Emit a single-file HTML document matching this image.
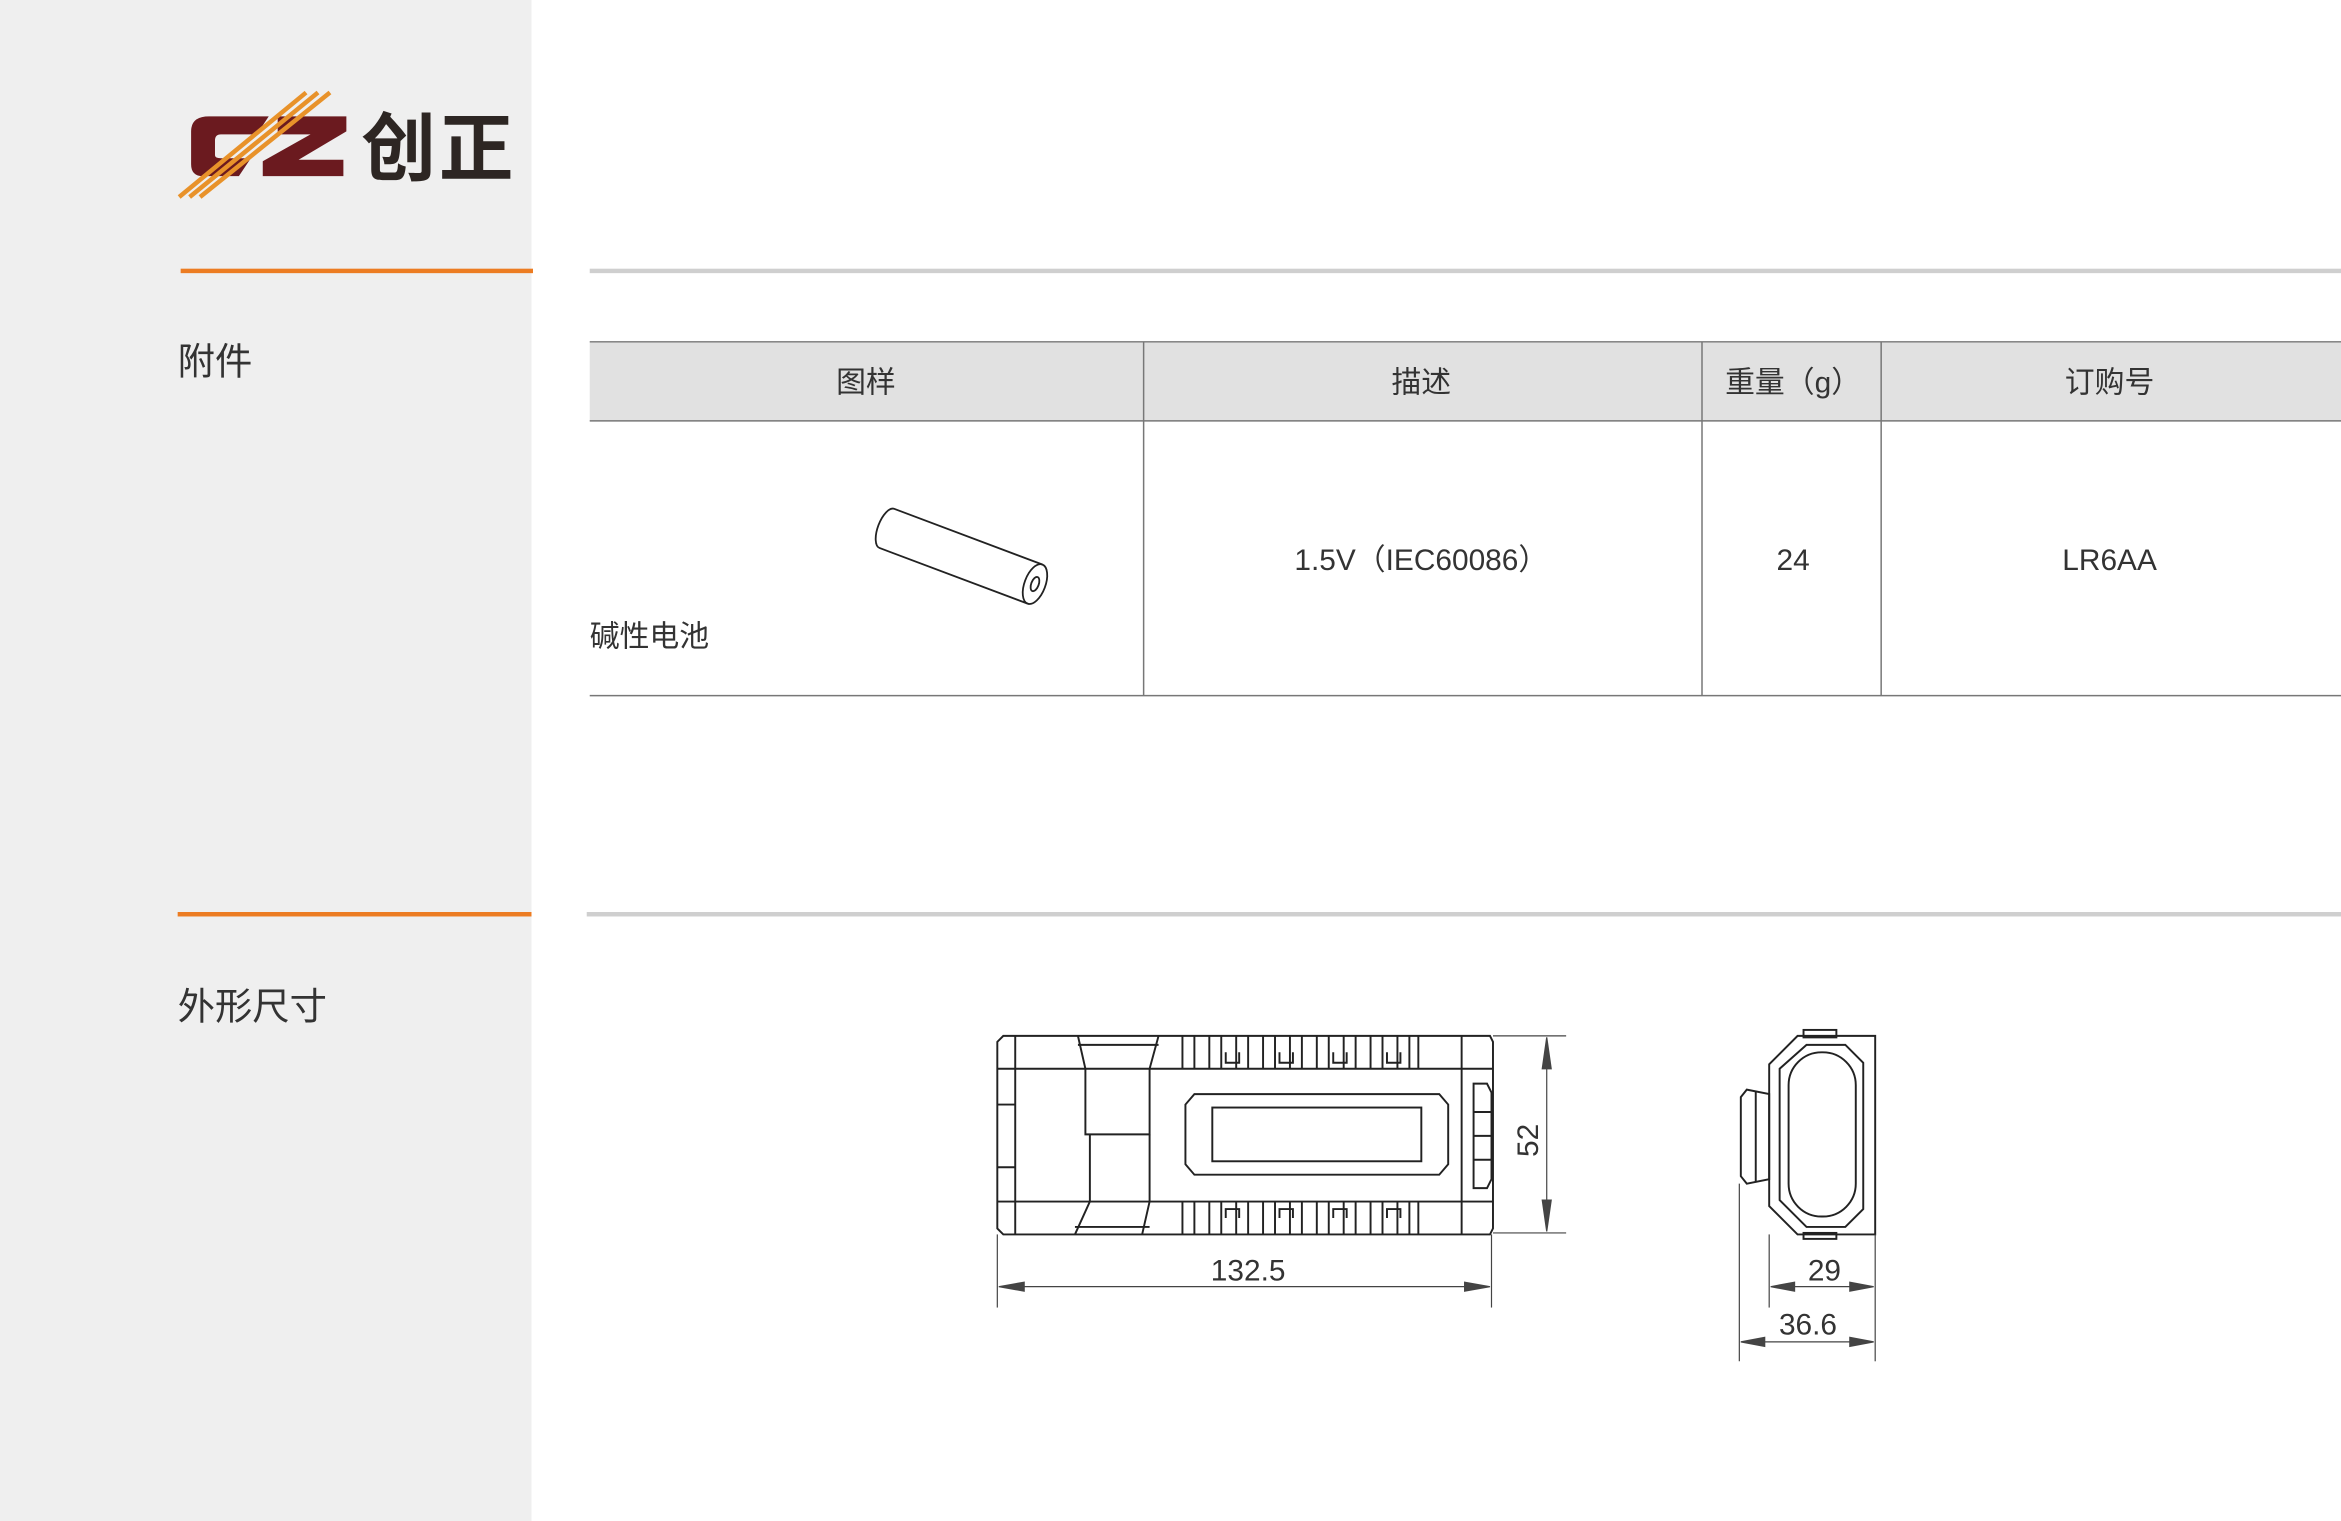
<!DOCTYPE html>
<html><head><meta charset="utf-8"><style>
html,body{margin:0;padding:0;background:#fff;}
svg{display:block;}
text{font-family:"Liberation Sans","Noto Sans CJK SC",sans-serif;}
</style></head><body>
<svg width="2341" height="1521" viewBox="0 0 1568 1019" preserveAspectRatio="none" xmlns="http://www.w3.org/2000/svg">
<rect x="0" y="0" width="1568" height="1019" fill="#fff"/>
<rect x="0" y="0" width="356" height="1019" fill="#efefef"/>
<!-- logo -->
<g>
<path d="M140 78 H180 L172 90 H148 Q144 90 144 94 V104 Q144 106 148 106 H168 L160 118 H136 Q128 118 128 110 V88 Q128 78 140 78 Z" fill="#6b1a1f"/>
<path d="M186 78 H232 L232 88 L200 107 H230 V118 H176 V108 L208 90 H186 Z" fill="#6b1a1f"/>
<g stroke="#e8922a" stroke-width="3">
<line x1="120" y1="132" x2="205" y2="62"/>
<line x1="127" y1="132" x2="213" y2="62"/>
<line x1="134" y1="132" x2="221" y2="62"/>
</g>
<text x="242" y="117" font-size="50" font-weight="bold" fill="#2d2623" letter-spacing="2">创正</text>
</g>
<!-- section lines -->
<rect x="121" y="180" width="236" height="3" fill="#ec7c22"/>
<rect x="395" y="180" width="1173" height="3" fill="#cfcfcf"/>
<rect x="119" y="611" width="237" height="3" fill="#ec7c22"/>
<rect x="393" y="611" width="1175" height="3" fill="#cfcfcf"/>
<text x="119" y="251" font-size="25" fill="#333">附件</text>
<text x="119" y="683" font-size="25" fill="#333">外形尺寸</text>
<!-- table -->
<rect x="395" y="229" width="1173" height="53" fill="#e1e1e1"/>
<g stroke="#777" stroke-width="1">
<line x1="395" y1="229" x2="1568" y2="229"/>
<line x1="395" y1="282" x2="1568" y2="282"/>
<line x1="395" y1="466" x2="1568" y2="466"/>
<line x1="766" y1="229" x2="766" y2="466"/>
<line x1="1140" y1="229" x2="1140" y2="466"/>
<line x1="1260" y1="229" x2="1260" y2="466"/>
</g>
<g font-size="20" fill="#333" text-anchor="middle">
<text x="580" y="263">图样</text>
<text x="952" y="263">描述</text>
<text x="1201" y="263">重量（g）</text>
<text x="1413" y="263">订购号</text>
<text x="952" y="382">1.5V（IEC60086）</text>
<text x="1201" y="382">24</text>
<text x="1413" y="382">LR6AA</text>
</g>
<text x="395" y="433" font-size="20" fill="#333">碱性电池</text>
<!-- battery -->
<g fill="none" stroke="#222" stroke-width="1.2" transform="translate(594 354) rotate(20.6)">
<path d="M0 -14 L106 -14 M0 14 L106 14 M0 -14 A6 14 0 0 0 0 14"/>
<ellipse cx="106" cy="0" rx="7" ry="14"/>
<ellipse cx="106" cy="0" rx="2.5" ry="5"/>
</g>
<!-- front view -->
<g fill="none" stroke="#222" stroke-width="1.3">
<path d="M672 694 H998 L1000 698 V823 L998 827 H672 L668 823 V698 Z"/>
<line x1="668" y1="716" x2="1000" y2="716"/>
<line x1="668" y1="805" x2="1000" y2="805"/>
<line x1="680" y1="694" x2="680" y2="827"/>
<line x1="668" y1="740" x2="680" y2="740"/>
<line x1="668" y1="782" x2="680" y2="782"/>
<path d="M722 694 L727 716 V760 H770 V716 L776 694"/>
<path d="M720 827 L730 805 V760 M765 827 L770 805 V760"/>
<line x1="722" y1="700" x2="776" y2="700"/>
<line x1="720" y1="822" x2="770" y2="822"/>
<line x1="979" y1="694" x2="979" y2="827"/>
<g>
<path d="M792 694 V716 M800 694 V716 M810 694 V716 M818 694 V716 M828 694 V716 M836 694 V716 M846 694 V716 M854 694 V716 M864 694 V716 M872 694 V716 M882 694 V716 M890 694 V716 M900 694 V716 M908 694 V716 M918 694 V716 M926 694 V716 M936 694 V716 M944 694 V716 M950 694 V716"/>
<path d="M792 805 V827 M800 805 V827 M810 805 V827 M818 805 V827 M828 805 V827 M836 805 V827 M846 805 V827 M854 805 V827 M864 805 V827 M872 805 V827 M882 805 V827 M890 805 V827 M900 805 V827 M908 805 V827 M918 805 V827 M926 805 V827 M936 805 V827 M944 805 V827 M950 805 V827"/>
<path d="M821 705 V712 H830 V705 M857 705 V712 H866 V705 M893 705 V712 H902 V705 M929 705 V712 H938 V705"/>
<path d="M821 816 V810 H830 V816 M857 816 V810 H866 V816 M893 816 V810 H902 V816 M929 816 V810 H938 V816"/>
</g>
<path d="M800 733 H964 L970 740 V780 L964 787 H800 L794 780 V740 Z"/>
<rect x="812" y="742" width="140" height="36"/>
<path d="M987 726 H996 L999 732 V790 L996 796 H987 Z"/>
<line x1="987" y1="745" x2="999" y2="745"/><line x1="987" y1="761" x2="999" y2="761"/><line x1="987" y1="777" x2="999" y2="777"/>
</g>
<!-- 52 dimension -->
<g stroke="#444" stroke-width="0.8" fill="#444">
<line x1="1000" y1="694" x2="1049" y2="694"/>
<line x1="1000" y1="826" x2="1049" y2="826"/>
<line x1="1036" y1="700" x2="1036" y2="820"/>
<path d="M1036 695 L1033 716 H1039 Z"/>
<path d="M1036 825 L1033 804 H1039 Z"/>
<line x1="668" y1="827" x2="668" y2="876"/>
<line x1="999" y1="827" x2="999" y2="876"/>
<line x1="672" y1="862" x2="995" y2="862"/>
<path d="M669 862 L686 859 V865 Z"/>
<path d="M998 862 L981 859 V865 Z"/>
</g>
<text transform="translate(1030 764) rotate(-90)" font-size="20" fill="#333" text-anchor="middle">52</text>
<text x="836" y="858" font-size="20" fill="#333" text-anchor="middle">132.5</text>
<!-- side view -->
<g fill="none" stroke="#222" stroke-width="1.3">
<path d="M1204 694 H1256 V827 H1204 L1185 808 V713 Z"/>
<path d="M1210 700 H1236 L1248 712 V810 L1236 822 H1210 L1192 804 V716 Z"/>
<rect x="1198" y="705" width="45" height="110" rx="22"/>
<rect x="1208" y="690" width="22" height="5"/>
<rect x="1208" y="826" width="22" height="4"/>
<path d="M1170 730 L1185 733 V790 L1170 793 L1166 788 V735 Z"/>
<line x1="1176" y1="731" x2="1176" y2="792"/>
</g>
<g stroke="#444" stroke-width="0.8" fill="#444">
<line x1="1185" y1="827" x2="1185" y2="876"/>
<line x1="1256" y1="827" x2="1256" y2="912"/>
<line x1="1165" y1="793" x2="1165" y2="912"/>
<line x1="1188" y1="862" x2="1253" y2="862"/>
<path d="M1186 862 L1202 859 V865 Z"/><path d="M1255 862 L1239 859 V865 Z"/>
<line x1="1168" y1="899" x2="1253" y2="899"/>
<path d="M1166 899 L1182 896 V902 Z"/><path d="M1255 899 L1239 896 V902 Z"/>
</g>
<text x="1222" y="858" font-size="20" fill="#333" text-anchor="middle">29</text>
<text x="1211" y="894" font-size="20" fill="#333" text-anchor="middle">36.6</text>
</svg>
</body></html>
